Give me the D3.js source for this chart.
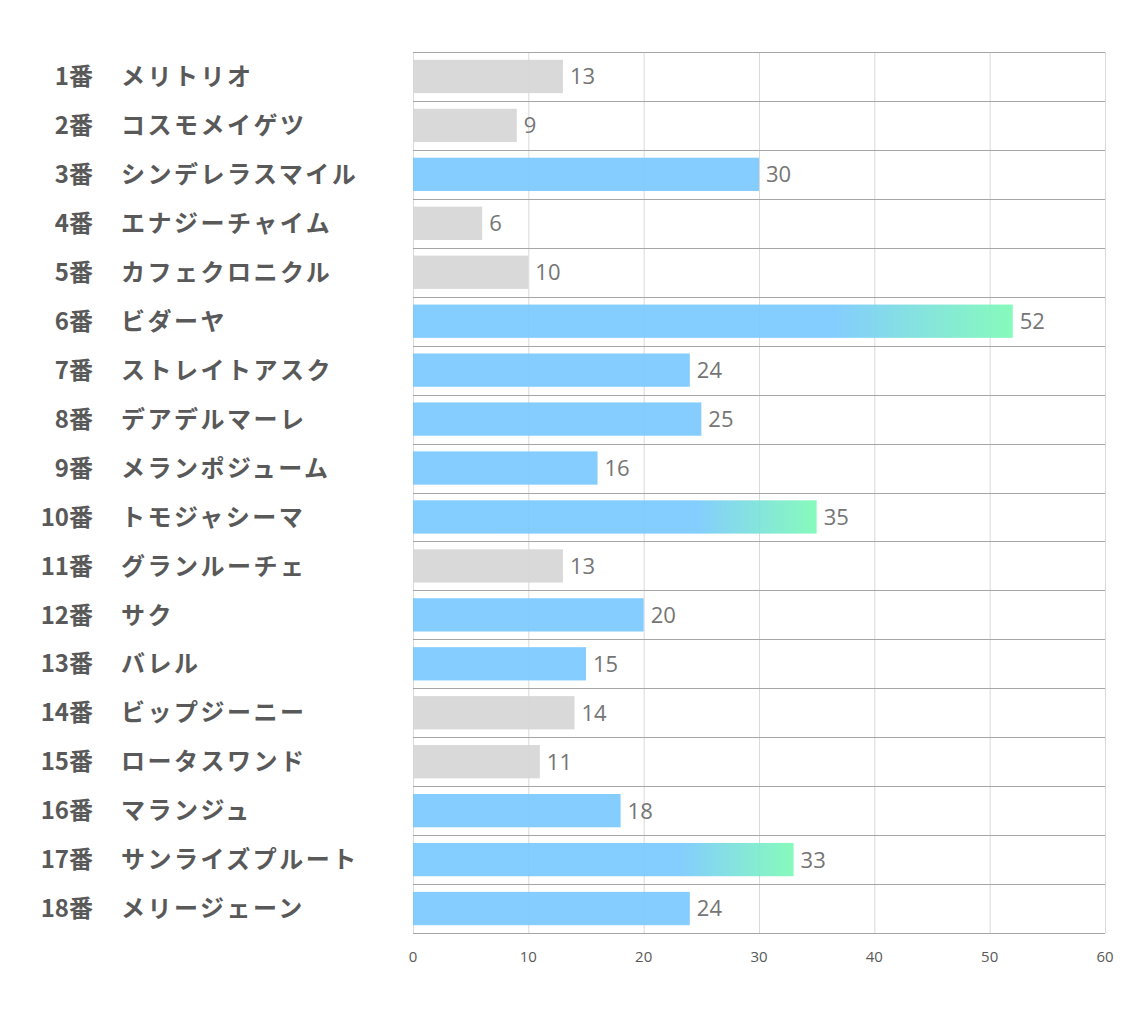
<!DOCTYPE html>
<html><head><meta charset="utf-8">
<script src="https://cdn.jsdelivr.net/npm/d3@7/dist/d3.min.js"></script>
<style>body{margin:0;background:#fff}</style>
</head><body>
<svg id="c" width="1134" height="1020"></svg>
<script>
const numbers = ["1番","2番","3番","4番","5番","6番","7番","8番","9番","10番","11番","12番","13番","14番","15番","16番","17番","18番"];
const names = ["メリトリオ","コスモメイゲツ","シンデレラスマイル","エナジーチャイム","カフェクロニクル","ビダーヤ","ストレイトアスク","デアデルマーレ","メランポジューム","トモジャシーマ","グランルーチェ","サク","バレル","ビップジーニー","ロータスワンド","マランジュ","サンライズプルート","メリージェーン"];
const values = [13,9,30,6,10,52,24,25,16,35,13,20,15,14,11,18,33,24];
const kind = ["gray","gray","blue","gray","gray","grad","blue","blue","blue","grad","gray","blue","blue","gray","gray","blue","grad","blue"];
const ticks = [0,10,20,30,40,50,60];

const svg = d3.select("#c");
const L = 413, R = 1105, T = 52, B = 933;
const x = d3.scaleLinear().domain([0,60]).range([L,R]);
const y = d3.scaleBand().domain(d3.range(values.length)).range([T,B]).paddingInner(0.32).paddingOuter(0.16);
const step = (B-T)/values.length;

const defs = svg.append("defs");
const g = defs.append("linearGradient").attr("id","gr").attr("x1","0").attr("x2","1").attr("y1","0").attr("y2","0");
g.append("stop").attr("offset","0.7").attr("stop-color","#79c9fe");
g.append("stop").attr("offset","1").attr("stop-color","#7cfab6");

// vertical grid
svg.append("g").selectAll("line").data(ticks).join("line")
  .attr("x1",d=>x(d)+0.5).attr("x2",d=>x(d)+0.5).attr("y1",T).attr("y2",B)
  .attr("stroke","#d9d9d9").attr("stroke-width",1);
// horizontal row lines
svg.append("g").selectAll("line").data(d3.range(values.length+1)).join("line")
  .attr("x1",L).attr("x2",R).attr("y1",d=>Math.round(T+d*step)+0.5).attr("y2",d=>Math.round(T+d*step)+0.5)
  .attr("stroke","#a6a6a6").attr("stroke-width",1);

// bars
svg.append("g").selectAll("rect").data(values).join("rect")
  .attr("x",x(0)).attr("y",(d,i)=>y(i)).attr("height",y.bandwidth())
  .attr("width",d=>x(d)-x(0))
  .attr("fill",(d,i)=>kind[i]==="gray"?"#d6d6d6":kind[i]==="blue"?"#79c9fe":"url(#gr)")
  .attr("opacity",0.92);

// value labels
svg.append("g").selectAll("text").data(values).join("text")
  .attr("x",d=>x(d)+7).attr("y",(d,i)=>y(i)+y.bandwidth()/2)
  .attr("dy","0.36em").attr("font-family","'Open Sans','Noto Sans',sans-serif")
  .attr("font-size",22).attr("fill","#757575").text(d=>d);

// category labels
const lab = svg.append("g").attr("font-family","'Noto Sans CJK JP',sans-serif").attr("font-weight","bold").attr("font-size",24).attr("fill","#595959");
lab.selectAll("text.n").data(numbers).join("text").attr("class","n")
  .attr("x",93).attr("y",(d,i)=>y(i)+y.bandwidth()/2).attr("dy","0.36em").attr("text-anchor","end").text(d=>d);
lab.selectAll("text.m").data(names).join("text").attr("class","m")
  .attr("x",121).attr("y",(d,i)=>y(i)+y.bandwidth()/2).attr("dy","0.36em")
  .attr("letter-spacing","2.5px").text(d=>d);

// axis tick labels
svg.append("g").selectAll("text").data(ticks).join("text")
  .attr("x",d=>x(d)).attr("y",957).attr("dy","0.36em").attr("text-anchor","middle")
  .attr("font-family","'Open Sans','Noto Sans',sans-serif").attr("font-size",15).attr("fill","#595959").text(d=>d);
</script>
</body></html>
